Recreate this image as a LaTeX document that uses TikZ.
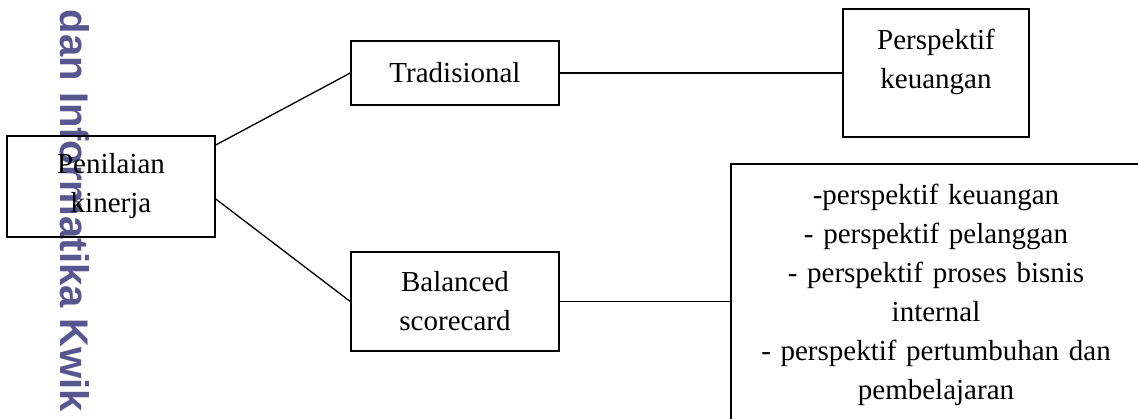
\documentclass[tikz,border=0pt]{standalone}
\usepackage{fontspec}
\setmainfont{Liberation Serif}
\newfontfamily\markfont{Liberation Sans}
\usetikzlibrary{positioning}
\definecolor{markpurple}{RGB}{88, 86, 142}

\begin{document}
\begin{tikzpicture}[
    x=1pt, y=-1pt,
    font=\fontsize{29}{39}\selectfont,
    box/.style={
        draw=black,
        line width=1.5pt,
        align=center,
        inner sep=0pt
    },
    link/.style={
        line width=1.3pt,
        draw=black
    }
]
    \useasboundingbox (0,0) rectangle (1138,418);

    % watermark behind everything
    \node[rotate=-90, inner sep=0pt, text=markpurple,
          font=\markfont\bfseries\fontsize{40}{40}\selectfont] (mark) at (74.5,211)
        {dan Informatika Kwik};

    % 1. Root
    \node[box, minimum width=208, minimum height=101] (penilaian) at (111,186.5)
        {Penilaian\\kinerja};

    % 2. Two approaches
    \node[box, minimum width=208, minimum height=64] (tradisional) at (455,73)
        {Tradisional};
    \node[box, minimum width=208, minimum height=99] (balanced) at (455,301.5)
        {Balanced\\scorecard};

    % 3. Perspectives
    \node[box, minimum width=186, minimum height=128] (keuangan) at (936,73)
        {Perspektif\\keuangan\\[-10pt]\mbox{}};
    \node[box, anchor=north, text width=380, inner xsep=15, inner ysep=20] (perspektif) at (936,163)
        {-perspektif keuangan\\
         - perspektif pelanggan\\
         - perspektif proses bisnis\\
         internal\\
         - perspektif pertumbuhan dan\\
         pembelajaran};

    % Connections
    \draw[link] ([yshift=41.5pt]penilaian.east) -- (tradisional.west);
    \draw[link] ([yshift=-12.5pt]penilaian.east) -- (balanced.west);
    \draw[link] (tradisional.east) -- (tradisional.east -| keuangan.west);
    \draw[link] (balanced.east) -- (balanced.east -| perspektif.west);

\end{tikzpicture}
\end{document}
